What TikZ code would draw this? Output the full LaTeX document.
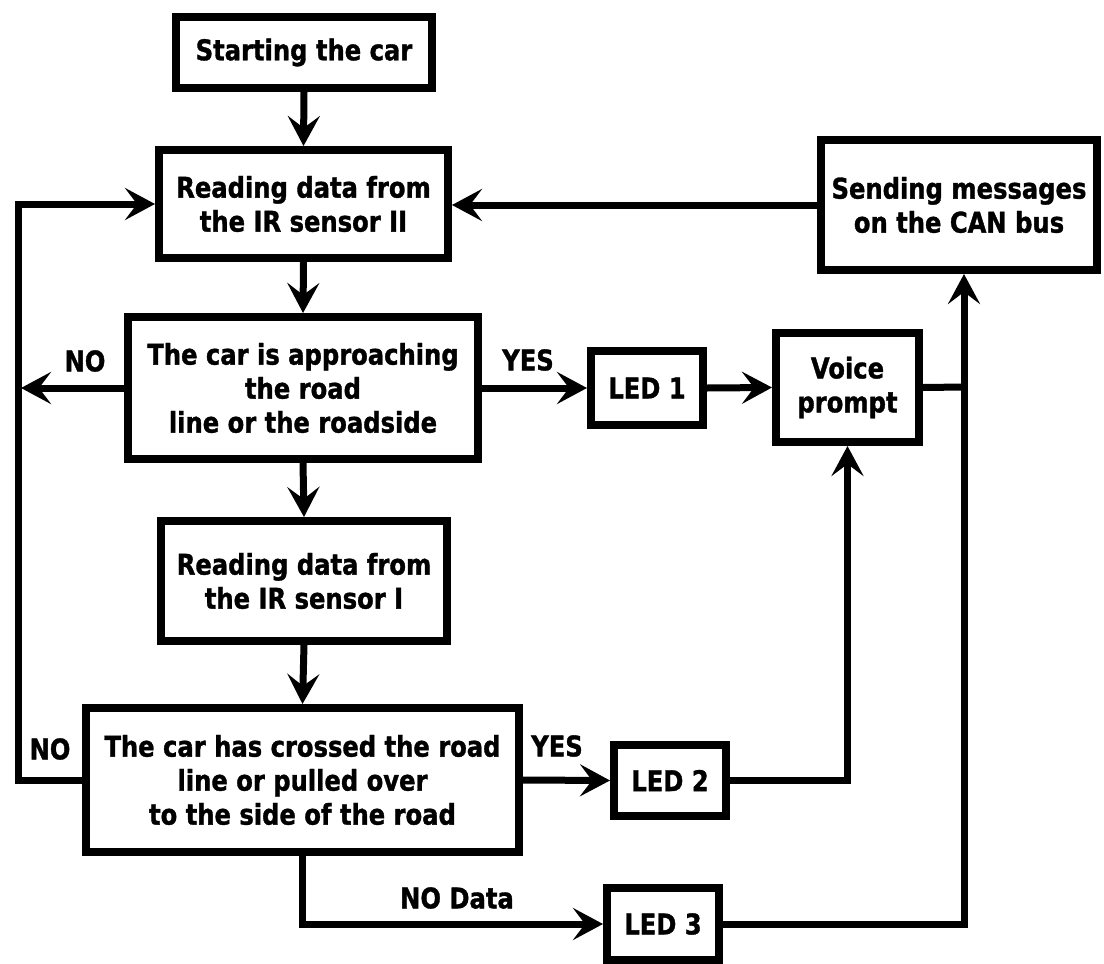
\documentclass[tikz,border=0pt]{standalone}
\usepackage{fontspec}
\setmainfont[FakeStretch=0.85, BoldFeatures={FakeBold=1.2}]{DejaVu Sans}
\usetikzlibrary{arrows.meta}
\begin{document}
\begin{tikzpicture}[x=1pt,y=-1pt,
  box/.style={draw, line width=8pt, inner sep=0pt, align=center,
    font=\fontsize{28.5}{34}\selectfont\bfseries},
  flow/.style={line width=7pt, -{Stealth[length=30pt,width=32pt,inset=12pt]}},
  wire/.style={line width=7pt},
  lbl/.style={font=\fontsize{28.5}{34}\selectfont\bfseries, inner sep=0pt}]
\useasboundingbox (0,0) rectangle (1104,964);
\fill[white] (0,0) rectangle (1104,964);

% process boxes
\node[box, minimum width=256pt, minimum height=71pt]  (start) at (304,52.5) {Starting the car};
\node[box, minimum width=289pt, minimum height=108pt] (read2) at (303.5,204) {Reading data from\\the IR sensor II};
\node[box, minimum width=276pt, minimum height=130pt] (can)   at (959,205) {Sending messages\\on the CAN bus};
\node[box, minimum width=350pt, minimum height=142pt] (dec1)  at (303,388) {The car is approaching\\the road\\line or the roadside};
\node[box, minimum width=112pt, minimum height=74pt]  (led1)  at (647,388) {LED 1};
\node[box, minimum width=143pt, minimum height=109pt] (voice) at (847.5,387.5) {Voice\\prompt};
\node[box, minimum width=286pt, minimum height=120pt] (read1) at (304,581) {Reading data from\\the IR sensor I};
\node[box, minimum width=433pt, minimum height=144pt] (dec2)  at (302.5,780) {The car has crossed the road\\line or pulled over\\to the side of the road};
\node[box, minimum width=112pt, minimum height=71pt]  (led2)  at (670,780.5) {LED 2};
\node[box, minimum width=112pt, minimum height=72pt]  (led3)  at (663,924) {LED 3};

% helper points for the return loop and the bus line
\coordinate (loop) at (18,500);
\coordinate (loopedge) at (21,500);
\coordinate (bus) at (964,387);

% main sequence
\draw[flow] (start.south) -- (read2.north);
\draw[flow] (read2.south) -- (dec1.north);
\draw[flow] (dec1.south) -- (read1.north);
\draw[flow] (read1.south) -- (dec2.north);

% NO branches back to the sensor reading
\draw[flow] (dec2.west) -| (loop) |- (read2.west);
\draw[flow] (dec1.west) -- (dec1.west -| loopedge);

% YES branches
\draw[flow] (dec1.east) -- (led1.west);
\draw[flow] (led1.east) -- (voice.west);
\draw[flow] (dec2.east) -- (led2.west);
\draw[flow] (led2.east) -| (voice.south);
\draw[flow] (dec2.south) |- (led3.west);

% bus to CAN and back
\draw[wire] (voice.east) -- (bus);
\draw[flow] (led3.east) -| (bus |- can.south);
\draw[flow] (can.west) -- (can.west -| read2.east);

% branch labels
\node[lbl] (no1)    at (85,361)  {NO};
\node[lbl] (yes1)   at (528,360) {YES};
\node[lbl] (no2)    at (50,749)  {NO};
\node[lbl] (yes2)   at (557,746) {YES};
\node[lbl] (nodata) at (457,898) {NO Data};
\end{tikzpicture}
\end{document}
